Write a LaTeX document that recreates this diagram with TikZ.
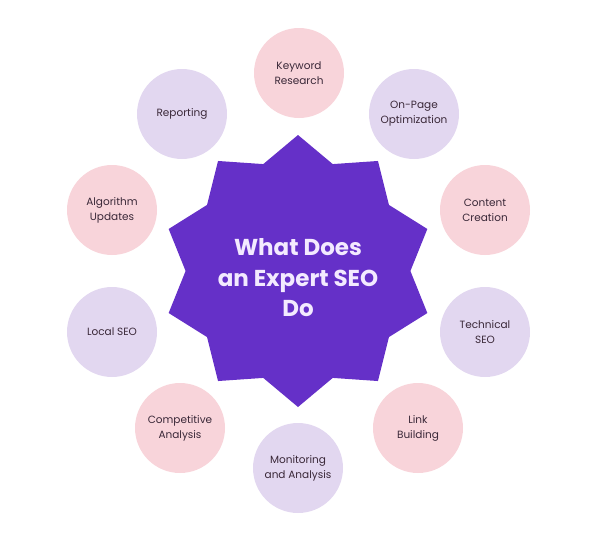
\documentclass[tikz,border=0pt]{standalone}
\usepackage{fontspec}
\setmainfont{Poppins}
\usetikzlibrary{shapes.geometric}
\definecolor{pinkc}{HTML}{F8D4DA}
\definecolor{lavc}{HTML}{E2D7F0}
\definecolor{starc}{HTML}{6530C8}
\definecolor{txtc}{HTML}{3A2838}
\definecolor{titlec}{HTML}{F3EAFF}
\tikzset{
  topic/.style={circle, minimum size=90pt, inner sep=0pt, align=center,
    text=txtc, font=\fontsize{10.5}{15}\selectfont},
  pinktopic/.style={topic, fill=pinkc},
  lavtopic/.style={topic, fill=lavc},
  bigstar/.style={star, star points=10, star point ratio=1.21, minimum size=272pt,
    inner sep=0pt, fill=starc},
  title/.style={align=center, text=titlec, font=\fontsize{23}{30.5}\selectfont\bfseries}
}
\begin{document}
\begin{tikzpicture}[x=1pt,y=-1pt]
\useasboundingbox (0,0) rectangle (600,541);
\node[bigstar] (center) at (298,271) {};
\node[title] (t) at (298,278) {What Does\\an Expert SEO\\Do};
\node[pinktopic] (kw) at (299,73) {Keyword\\Research};
\node[lavtopic] (op) at (414,114) {On-Page\\Optimization};
\node[pinktopic] (cc) at (485,210) {Content\\Creation};
\node[lavtopic] (ts) at (485,332) {Technical\\SEO};
\node[pinktopic] (lb) at (418,428) {Link\\Building};
\node[lavtopic] (ma) at (298,468) {Monitoring\\and Analysis};
\node[pinktopic] (ca) at (180,428) {Competitive\\Analysis};
\node[lavtopic] (ls) at (112,332) {Local SEO};
\node[pinktopic] (au) at (112,210) {Algorithm\\Updates};
\node[lavtopic] (rp) at (182,114) {Reporting};
\end{tikzpicture}
\end{document}
